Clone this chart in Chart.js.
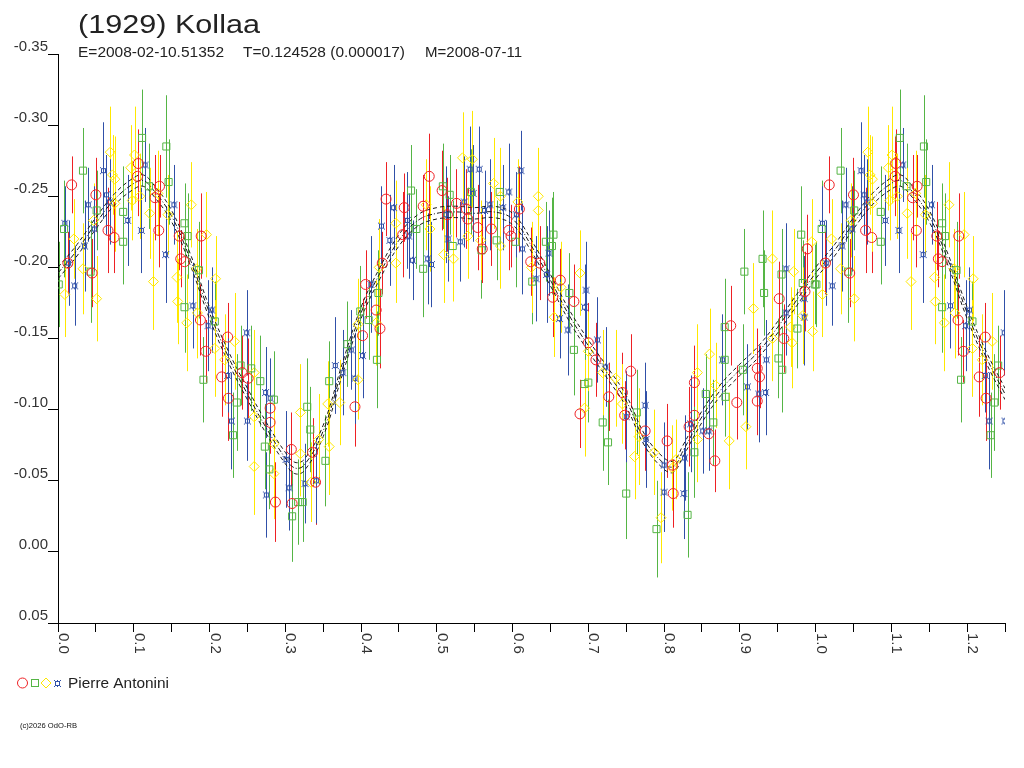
<!DOCTYPE html>
<html>
<head>
<meta charset="utf-8">
<title>(1929) Kollaa</title>
<script src="https://cdn.jsdelivr.net/npm/chart.js@4.4.1/dist/chart.umd.min.js"></script>
<style>
  body { margin: 0; background: #fff; }
  #wrap { width: 1024px; height: 768px; position: relative; }
</style>
</head>
<body>
<div id="wrap"><canvas id="lc"></canvas></div>
<script>
// observations: [phase, reduced mag, error]
const redObs = [
  [0.013,-0.203,0.022],[0.018,-0.258,0.020],[0.045,-0.196,0.024],[0.050,-0.251,0.026],[0.066,-0.226,0.030],
  [0.074,-0.221,0.025],[0.105,-0.264,0.028],[0.106,-0.273,0.024],[0.128,-0.249,0.030],[0.133,-0.226,0.026],
  [0.134,-0.257,0.022],[0.160,-0.222,0.024],[0.162,-0.206,0.020],[0.167,-0.204,0.018],[0.188,-0.163,0.025],
  [0.189,-0.222,0.030],[0.195,-0.141,0.022],[0.216,-0.123,0.028],[0.224,-0.151,0.024],[0.225,-0.108,0.030],
  [0.243,-0.126,0.026],[0.251,-0.122,0.028],[0.280,-0.101,0.024],[0.280,-0.091,0.022],[0.287,-0.035,0.028],
  [0.308,-0.072,0.026],[0.309,-0.034,0.020],[0.336,-0.070,0.024],[0.340,-0.049,0.030],[0.392,-0.102,0.028],
  [0.402,-0.152,0.026],[0.406,-0.188,0.024],[0.420,-0.170,0.020],[0.425,-0.157,0.028],[0.428,-0.203,0.022],
  [0.433,-0.248,0.026],[0.455,-0.223,0.030],[0.457,-0.242,0.024],[0.482,-0.243,0.022],[0.490,-0.264,0.030],
  [0.507,-0.254,0.028],[0.514,-0.237,0.026],[0.526,-0.245,0.024],[0.539,-0.241,0.028],[0.541,-0.234,0.022],
  [0.554,-0.228,0.030],[0.560,-0.213,0.024],[0.572,-0.227,0.026],[0.595,-0.226,0.028],[0.598,-0.222,0.022],
  [0.609,-0.241,0.030],[0.624,-0.204,0.024],[0.636,-0.203,0.026],[0.653,-0.179,0.028],[0.663,-0.191,0.022],
  [0.681,-0.176,0.026],[0.689,-0.097,0.024],[0.700,-0.147,0.028],[0.710,-0.135,0.026],[0.727,-0.109,0.024],
  [0.745,-0.112,0.028],[0.748,-0.096,0.024],[0.756,-0.127,0.026],[0.775,-0.085,0.028],[0.804,-0.078,0.026],
  [0.811,-0.061,0.022],[0.812,-0.041,0.024],[0.833,-0.088,0.028],[0.840,-0.096,0.030],[0.840,-0.119,0.026],
  [0.859,-0.083,0.024],[0.867,-0.064,0.022],[0.888,-0.159,0.028],[0.896,-0.105,0.026],[0.923,-0.106,0.024],
  [0.923,-0.129,0.028],[0.926,-0.123,0.022],[0.952,-0.178,0.026],[0.958,-0.150,0.024],[0.986,-0.183,0.028],
  [0.989,-0.213,0.024]
];
const greenObs = [
  [0.001,-0.188,0.030],[0.008,-0.227,0.034],[0.033,-0.268,0.030],[0.043,-0.197,0.036],[0.051,-0.240,0.028],
  [0.086,-0.239,0.032],[0.086,-0.218,0.030],[0.111,-0.291,0.034],[0.120,-0.257,0.030],[0.143,-0.285,0.036],
  [0.146,-0.260,0.030],[0.167,-0.231,0.028],[0.167,-0.172,0.032],[0.171,-0.222,0.030],[0.186,-0.198,0.034],
  [0.192,-0.121,0.030],[0.207,-0.162,0.028],[0.231,-0.082,0.030],[0.236,-0.105,0.034],[0.241,-0.131,0.028],
  [0.255,-0.129,0.030],[0.267,-0.120,0.032],[0.273,-0.074,0.030],[0.279,-0.058,0.028],[0.285,-0.107,0.034],
  [0.309,-0.025,0.032],[0.317,-0.035,0.030],[0.323,-0.035,0.028],[0.329,-0.102,0.034],[0.333,-0.086,0.030],
  [0.353,-0.064,0.032],[0.358,-0.120,0.028],[0.382,-0.146,0.030],[0.399,-0.169,0.032],[0.410,-0.163,0.028],
  [0.421,-0.135,0.034],[0.423,-0.182,0.030],[0.466,-0.254,0.032],[0.473,-0.227,0.028],[0.482,-0.199,0.034],
  [0.508,-0.257,0.030],[0.517,-0.251,0.028],[0.521,-0.215,0.032],[0.545,-0.253,0.030],[0.559,-0.212,0.034],
  [0.579,-0.219,0.028],[0.583,-0.253,0.030],[0.604,-0.218,0.032],[0.626,-0.190,0.030],[0.644,-0.218,0.028],
  [0.652,-0.215,0.034],[0.654,-0.223,0.030],[0.675,-0.182,0.028],[0.681,-0.142,0.032],[0.695,-0.118,0.030],
  [0.700,-0.119,0.028],[0.719,-0.091,0.034],[0.726,-0.077,0.030],[0.750,-0.041,0.032],[0.764,-0.098,0.030],
  [0.790,-0.016,0.034],[0.831,-0.026,0.030],[0.840,-0.070,0.032],[0.855,-0.111,0.028],[0.865,-0.091,0.030],
  [0.880,-0.158,0.034],[0.880,-0.135,0.030],[0.881,-0.109,0.028],[0.904,-0.128,0.032],[0.906,-0.197,0.030],
  [0.930,-0.206,0.034],[0.932,-0.182,0.030],[0.951,-0.136,0.028],[0.955,-0.195,0.032],[0.956,-0.128,0.030],
  [0.976,-0.157,0.028],[0.981,-0.223,0.034],[0.983,-0.189,0.030],[0.999,-0.188,0.028]
];
const yellowObs = [
  [0.009,-0.181,0.030],[0.021,-0.220,0.028],[0.033,-0.199,0.032],[0.047,-0.233,0.026],[0.051,-0.178,0.030],
  [0.069,-0.281,0.032],[0.072,-0.265,0.028],[0.075,-0.262,0.030],[0.075,-0.245,0.034],[0.096,-0.270,0.030],
  [0.098,-0.247,0.028],[0.101,-0.279,0.034],[0.108,-0.250,0.030],[0.121,-0.238,0.032],[0.126,-0.190,0.034],
  [0.132,-0.252,0.030],[0.145,-0.237,0.028],[0.157,-0.193,0.032],[0.158,-0.176,0.030],[0.170,-0.161,0.034],
  [0.176,-0.244,0.030],[0.183,-0.199,0.028],[0.184,-0.168,0.032],[0.196,-0.223,0.030],[0.207,-0.143,0.034],
  [0.208,-0.192,0.030],[0.220,-0.135,0.032],[0.233,-0.148,0.034],[0.259,-0.126,0.030],[0.259,-0.095,0.032],
  [0.259,-0.060,0.034],[0.285,-0.076,0.028],[0.285,-0.055,0.032],[0.320,-0.098,0.034],[0.320,-0.069,0.030],
  [0.334,-0.049,0.028],[0.344,-0.079,0.032],[0.356,-0.104,0.030],[0.358,-0.074,0.034],[0.372,-0.105,0.030],
  [0.396,-0.121,0.028],[0.396,-0.160,0.032],[0.420,-0.161,0.030],[0.424,-0.200,0.034],[0.446,-0.231,0.030],
  [0.446,-0.203,0.028],[0.486,-0.244,0.032],[0.491,-0.227,0.030],[0.509,-0.209,0.034],[0.522,-0.206,0.030],
  [0.534,-0.277,0.032],[0.541,-0.222,0.030],[0.547,-0.276,0.034],[0.558,-0.219,0.028],[0.575,-0.259,0.032],
  [0.584,-0.215,0.030],[0.584,-0.250,0.034],[0.607,-0.246,0.030],[0.625,-0.200,0.032],[0.634,-0.250,0.034],
  [0.634,-0.240,0.030],[0.655,-0.165,0.028],[0.664,-0.186,0.032],[0.689,-0.196,0.030],[0.695,-0.101,0.034],
  [0.700,-0.141,0.028],[0.719,-0.126,0.030],[0.736,-0.122,0.034],[0.745,-0.104,0.028],[0.761,-0.067,0.030],
  [0.767,-0.081,0.034],[0.787,-0.070,0.030],[0.796,-0.024,0.032],[0.811,-0.059,0.030],[0.816,-0.065,0.028],
  [0.844,-0.126,0.034],[0.844,-0.079,0.030],[0.860,-0.139,0.032],[0.868,-0.117,0.030],[0.886,-0.078,0.034],
  [0.908,-0.088,0.030],[0.918,-0.171,0.032],[0.943,-0.206,0.034],[0.943,-0.150,0.030],[0.967,-0.158,0.028],
  [0.969,-0.147,0.032],[0.971,-0.197,0.030],[0.983,-0.166,0.034],[0.995,-0.218,0.030],[0.996,-0.155,0.028]
];
const blueObs = [
  [0.009,-0.231,0.026],[0.014,-0.203,0.030],[0.022,-0.187,0.028],[0.035,-0.215,0.032],[0.040,-0.244,0.026],
  [0.048,-0.227,0.030],[0.060,-0.268,0.034],[0.064,-0.251,0.028],[0.068,-0.246,0.030],[0.092,-0.233,0.032],
  [0.110,-0.226,0.030],[0.115,-0.272,0.026],[0.142,-0.209,0.034],[0.153,-0.244,0.028],[0.178,-0.173,0.030],
  [0.198,-0.159,0.032],[0.203,-0.170,0.030],[0.224,-0.124,0.026],[0.229,-0.092,0.034],[0.249,-0.154,0.030],
  [0.250,-0.092,0.028],[0.274,-0.112,0.032],[0.275,-0.040,0.030],[0.280,-0.108,0.028],[0.301,-0.065,0.034],
  [0.305,-0.045,0.030],[0.326,-0.048,0.028],[0.341,-0.050,0.030],[0.366,-0.131,0.034],[0.376,-0.126,0.030],
  [0.387,-0.142,0.028],[0.392,-0.122,0.032],[0.402,-0.138,0.030],[0.413,-0.188,0.034],[0.427,-0.229,0.028],
  [0.438,-0.219,0.032],[0.443,-0.242,0.030],[0.461,-0.233,0.034],[0.463,-0.222,0.030],[0.468,-0.205,0.028],
  [0.488,-0.206,0.032],[0.493,-0.202,0.030],[0.512,-0.237,0.034],[0.515,-0.220,0.030],[0.531,-0.218,0.028],
  [0.536,-0.246,0.032],[0.544,-0.269,0.030],[0.548,-0.252,0.034],[0.556,-0.269,0.030],[0.563,-0.240,0.028],
  [0.570,-0.244,0.032],[0.587,-0.242,0.030],[0.595,-0.253,0.034],[0.605,-0.237,0.030],[0.611,-0.268,0.028],
  [0.613,-0.213,0.032],[0.631,-0.192,0.030],[0.645,-0.195,0.034],[0.648,-0.210,0.030],[0.662,-0.164,0.028],
  [0.673,-0.156,0.032],[0.695,-0.172,0.030],[0.697,-0.184,0.034],[0.712,-0.149,0.030],[0.723,-0.130,0.028],
  [0.750,-0.095,0.032],[0.775,-0.103,0.030],[0.776,-0.079,0.034],[0.800,-0.061,0.030],[0.800,-0.042,0.028],
  [0.826,-0.041,0.032],[0.827,-0.066,0.030],[0.835,-0.090,0.034],[0.851,-0.085,0.030],[0.859,-0.085,0.028],
  [0.877,-0.135,0.032],[0.910,-0.116,0.030],[0.925,-0.111,0.034],[0.934,-0.112,0.030],[0.935,-0.135,0.028],
  [0.961,-0.199,0.032],[0.961,-0.168,0.030],[0.985,-0.165,0.034],[0.985,-0.178,0.030]
];

// fitted lightcurve and its envelope
const fitPhase = [0,0.025,0.05,0.075,0.1,0.1125,0.125,0.15,0.175,0.2,0.225,0.25,0.275,0.3,0.3125,0.325,0.35,0.375,0.4,0.425,
  0.45,0.475,0.5,0.525,0.55,0.575,0.6,0.625,0.65,0.675,0.7,0.725,0.75,0.775,0.8,0.8125,0.825,0.85,0.875,0.9,0.925,0.95,0.975,1.0];
const fitMag = [-0.196,-0.212,-0.231,-0.248,-0.259,-0.261,-0.255,-0.236,-0.205,-0.168,-0.137,-0.111,-0.087,-0.066,-0.059,-0.061,-0.085,-0.128,-0.168,-0.196,
  -0.219,-0.233,-0.238,-0.239,-0.238,-0.239,-0.234,-0.215,-0.191,-0.166,-0.145,-0.126,-0.106,-0.078,-0.062,-0.060,-0.071,-0.095,-0.114,-0.128,-0.141,-0.158,-0.177,-0.196];
const fitHi = [-0.200,-0.216,-0.235,-0.252,-0.263,-0.265,-0.259,-0.240,-0.209,-0.172,-0.141,-0.115,-0.091,-0.070,-0.063,-0.065,-0.089,-0.132,-0.172,-0.200,
  -0.223,-0.237,-0.242,-0.243,-0.242,-0.243,-0.238,-0.219,-0.195,-0.170,-0.149,-0.130,-0.110,-0.082,-0.066,-0.064,-0.075,-0.099,-0.118,-0.132,-0.145,-0.162,-0.181,-0.200];
const fitLo = [-0.192,-0.208,-0.227,-0.244,-0.255,-0.257,-0.251,-0.232,-0.201,-0.164,-0.133,-0.107,-0.083,-0.062,-0.055,-0.057,-0.081,-0.124,-0.164,-0.192,
  -0.215,-0.229,-0.234,-0.235,-0.234,-0.235,-0.230,-0.211,-0.187,-0.162,-0.141,-0.122,-0.102,-0.074,-0.058,-0.056,-0.067,-0.091,-0.110,-0.124,-0.137,-0.154,-0.173,-0.192];

const phaseTicks = ['0.0','0.1','0.2','0.3','0.4','0.5','0.6','0.7','0.8','0.9','1.0','1.1','1.2'];
const maxPhase = 1.25;

const FONT = "'Liberation Sans', Arial, sans-serif";

// phases below 0.25 are shown a second time after 1.0
function phased(obs) {
  const out = [];
  for (let i = 0; i < obs.length; i++) {
    out.push({x: obs[i][0], y: obs[i][1], e: obs[i][2]});
    if (obs[i][0] + 1 <= maxPhase) out.push({x: obs[i][0] + 1, y: obs[i][1], e: obs[i][2]});
  }
  return out;
}

function fitLine(mags) {
  const out = [];
  for (let i = 0; i < fitPhase.length; i++) out.push({x: fitPhase[i], y: mags[i]});
  for (let i = 1; i < fitPhase.length; i++) {
    if (fitPhase[i] + 1 > maxPhase + 0.001) break;
    out.push({x: fitPhase[i] + 1, y: mags[i]});
  }
  return out;
}

function starMark(col) {
  const c = document.createElement('canvas');
  c.width = 9; c.height = 9;
  const g = c.getContext('2d');
  g.strokeStyle = col; g.fillStyle = col; g.lineWidth = 1;
  g.strokeRect(2.5, 2.5, 4, 4);
  g.fillRect(1, 1, 1, 1); g.fillRect(7, 1, 1, 1);
  g.fillRect(1, 7, 1, 1); g.fillRect(7, 7, 1, 1);
  g.fillRect(4, 1, 1, 1); g.fillRect(4, 7, 1, 1);
  return c;
}

const cRed = '#ee2024', cGreen = '#55b545', cYellow = '#ffe800', cBlue = '#3050a8';
const blueStar = starMark(cBlue);

function obsSet(obs, col, style, r) {
  return {
    type: 'scatter',
    data: phased(obs),
    errColor: col,
    pointStyle: style,
    pointRadius: r,
    pointBorderColor: col,
    pointBackgroundColor: 'rgba(0,0,0,0)',
    pointBorderWidth: 1,
    order: 1
  };
}

function fitSet(mags, dash) {
  return {
    type: 'line',
    data: fitLine(mags),
    borderColor: '#1a1a1a',
    borderWidth: 1,
    borderDash: dash,
    pointRadius: 0,
    tension: 0.4,
    fill: false,
    order: 2
  };
}

const errorBars = {
  id: 'errorBars',
  beforeDatasetsDraw(chart) {
    const ctx = chart.ctx, xs = chart.scales.x, ys = chart.scales.y, a = chart.chartArea;
    ctx.save();
    ctx.beginPath();
    ctx.rect(a.left, a.top, a.right - a.left, a.bottom - a.top);
    ctx.clip();
    ctx.lineWidth = 1;
    chart.data.datasets.forEach(ds => {
      if (!ds.errColor) return;
      ctx.strokeStyle = ds.errColor;
      ds.data.forEach(p => {
        const px = Math.round(xs.getPixelForValue(p.x)) + 0.5;
        ctx.beginPath();
        ctx.moveTo(px, ys.getPixelForValue(p.y - p.e));
        ctx.lineTo(px, ys.getPixelForValue(p.y + p.e));
        ctx.stroke();
      });
    });
    ctx.restore();
  }
};

function stretchText(ctx, txt, x, y, size, width) {
  ctx.font = size + 'px ' + FONT;
  const w = ctx.measureText(txt).width;
  ctx.save();
  ctx.translate(x, y);
  ctx.scale(width / w, 1);
  ctx.fillText(txt, 0, 0);
  ctx.restore();
}

const decorations = {
  id: 'decorations',
  afterDraw(chart) {
    const ctx = chart.ctx, xs = chart.scales.x, a = chart.chartArea;
    ctx.save();
    ctx.fillStyle = '#222';
    ctx.textAlign = 'left';
    ctx.textBaseline = 'alphabetic';
    stretchText(ctx, '(1929) Kollaa', 78, 33, 26, 182);
    stretchText(ctx, 'E=2008-02-10.51352', 78, 57, 15, 146);
    stretchText(ctx, 'T=0.124528 (0.000017)', 243, 57, 15, 162);
    stretchText(ctx, 'M=2008-07-11', 425, 57, 15, 97);

    // phase labels, rotated clockwise
    ctx.fillStyle = '#333';
    ctx.font = '15px ' + FONT;
    for (let i = 0; i < phaseTicks.length; i++) {
      const px = xs.getPixelForValue(parseFloat(phaseTicks[i]));
      ctx.save();
      ctx.translate(Math.round(px) + 1, a.bottom + 10);
      ctx.rotate(Math.PI / 2);
      ctx.fillText(phaseTicks[i], 0, 0);
      ctx.restore();
    }

    // observer legend
    const ly = 683;
    ctx.lineWidth = 1;
    ctx.strokeStyle = cRed;
    ctx.beginPath(); ctx.arc(22.5, ly, 5, 0, Math.PI * 2); ctx.stroke();
    ctx.strokeStyle = cGreen;
    ctx.strokeRect(31.5, ly - 3.5, 7, 7);
    ctx.strokeStyle = cYellow;
    ctx.beginPath();
    ctx.moveTo(46, ly - 5); ctx.lineTo(51, ly); ctx.lineTo(46, ly + 5); ctx.lineTo(41, ly); ctx.closePath();
    ctx.stroke();
    ctx.drawImage(blueStar, 53, ly - 4);
    ctx.fillStyle = '#222';
    ctx.textBaseline = 'middle';
    stretchText(ctx, 'Pierre Antonini', 68, ly + 1, 15, 101);

    ctx.textBaseline = 'alphabetic';
    ctx.fillStyle = '#111';
    stretchText(ctx, '(c)2026 OdO-RB', 20, 728, 8, 57);
    ctx.restore();
  }
};

const ctx = document.getElementById('lc');
new Chart(ctx, {
  data: {
    datasets: [
      obsSet(redObs, cRed, 'circle', 5),
      obsSet(greenObs, cGreen, 'rect', 5),
      obsSet(yellowObs, cYellow, 'rectRot', 5),
      obsSet(blueObs, cBlue, blueStar, 4),
      fitSet(fitMag, [5, 2, 1, 2]),
      fitSet(fitHi, [4, 3]),
      fitSet(fitLo, [4, 3])
    ]
  },
  options: {
    responsive: true,
    maintainAspectRatio: false,
    devicePixelRatio: 1,
    animation: false,
    layout: { padding: { top: 54, right: 19, left: 0, bottom: 0 } },
    plugins: { legend: { display: false }, tooltip: { enabled: false } },
    scales: {
      x: {
        type: 'linear', min: 0, max: maxPhase,
        afterFit(s) { s.height = 145; },
        border: { display: true, color: '#000', width: 1 },
        grid: { drawOnChartArea: false, tickLength: 9, color: '#000' },
        ticks: { stepSize: 0.05, autoSkip: false, maxRotation: 0, padding: 0, callback: () => '' }
      },
      y: {
        type: 'linear', min: -0.35, max: 0.05, reverse: true,
        afterFit(s) { s.width = 58; },
        border: { display: true, color: '#000', width: 1 },
        grid: { drawOnChartArea: false, tickLength: 10, color: '#000' },
        ticks: {
          stepSize: 0.05, padding: 0, labelOffset: -7, color: '#333',
          font: { family: FONT, size: 15 },
          callback: v => v.toFixed(2)
        }
      }
    }
  },
  plugins: [errorBars, decorations]
});
</script>
</body>
</html>
